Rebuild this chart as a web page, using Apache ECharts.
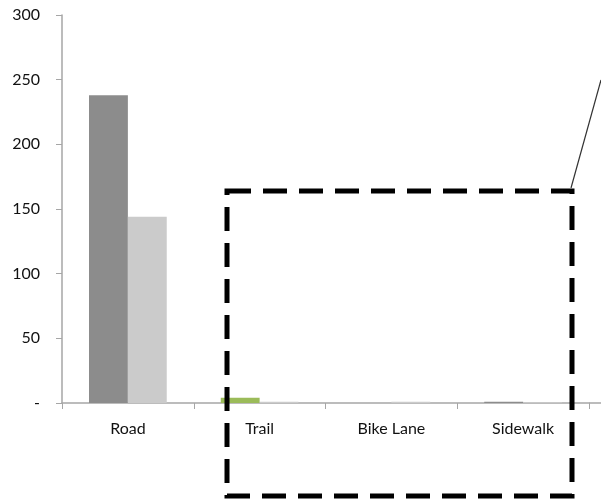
<!DOCTYPE html>
<html>
<head>
<meta charset="utf-8">
<script src="https://cdn.jsdelivr.net/npm/echarts@6/dist/echarts.min.js"></script>
<style>
  html, body { margin: 0; padding: 0; background: #fff; }
  #chart { width: 601px; height: 501px; }
</style>
</head>
<body>
<div id="chart"></div>
<script>
var categories = ['Road', 'Trail', 'Bike Lane', 'Sidewalk'];
var seriesA = [238, 4, 0, 1];
var seriesB = [144, 1, 1, 0.5];
var yTicks = ['-', '50', '100', '150', '200', '250', '300'];

var chartDom = document.getElementById('chart');
var myChart = echarts.init(chartDom);

var axisGray = '#a6a6a6';
var font = 'Lato';

var option = {
    animation: false,
    textStyle: { fontFamily: font },
    grid: { left: 62, right: 12, top: 15, bottom: 98, containLabel: false },
    xAxis: {
        type: 'category',
        data: categories,
        axisLine: { lineStyle: { color: axisGray, width: 1.5 } },
        axisTick: { show: true, length: 6, lineStyle: { color: axisGray } },
        axisLabel: { color: '#111', fontSize: 16, margin: 18 }
    },
    yAxis: {
        type: 'value',
        min: 0,
        max: 300,
        interval: 50,
        splitLine: { show: false },
        axisLine: { show: true, lineStyle: { color: axisGray, width: 1.5 } },
        axisTick: { show: true, length: 6, lineStyle: { color: axisGray } },
        axisLabel: {
            color: '#111',
            fontSize: 16,
            margin: 22,
            formatter: function (v) { return yTicks[Math.round(v / 50)]; }
        }
    },
    series: [
        {
            type: 'bar',
            barGap: 0,
            barCategoryGap: '41%',
            data: seriesA.map(function (v, i) {
                return i === 1 ? { value: v, itemStyle: { color: '#9bbb59' } } : v;
            }),
            itemStyle: { color: '#8c8c8c' }
        },
        {
            type: 'bar',
            data: seriesB,
            itemStyle: { color: '#cbcbcb' }
        }
    ],
    graphic: [
        {
            type: 'rect',
            shape: { x: 227, y: 191, width: 345, height: 305 },
            style: { fill: 'none', stroke: '#000', lineWidth: 5, lineDash: [24, 12] },
            z: 100
        },
        {
            type: 'line',
            shape: { x1: 571, y1: 188, x2: 601, y2: 80 },
            style: { stroke: '#333', lineWidth: 1.2 },
            z: 100
        },
        {
            type: 'line',
            shape: { x1: 589, y1: 403, x2: 601, y2: 403 },
            style: { stroke: axisGray, lineWidth: 1.5 },
            z: 1
        }
    ]
};

myChart.setOption(option);
</script>
</body>
</html>
